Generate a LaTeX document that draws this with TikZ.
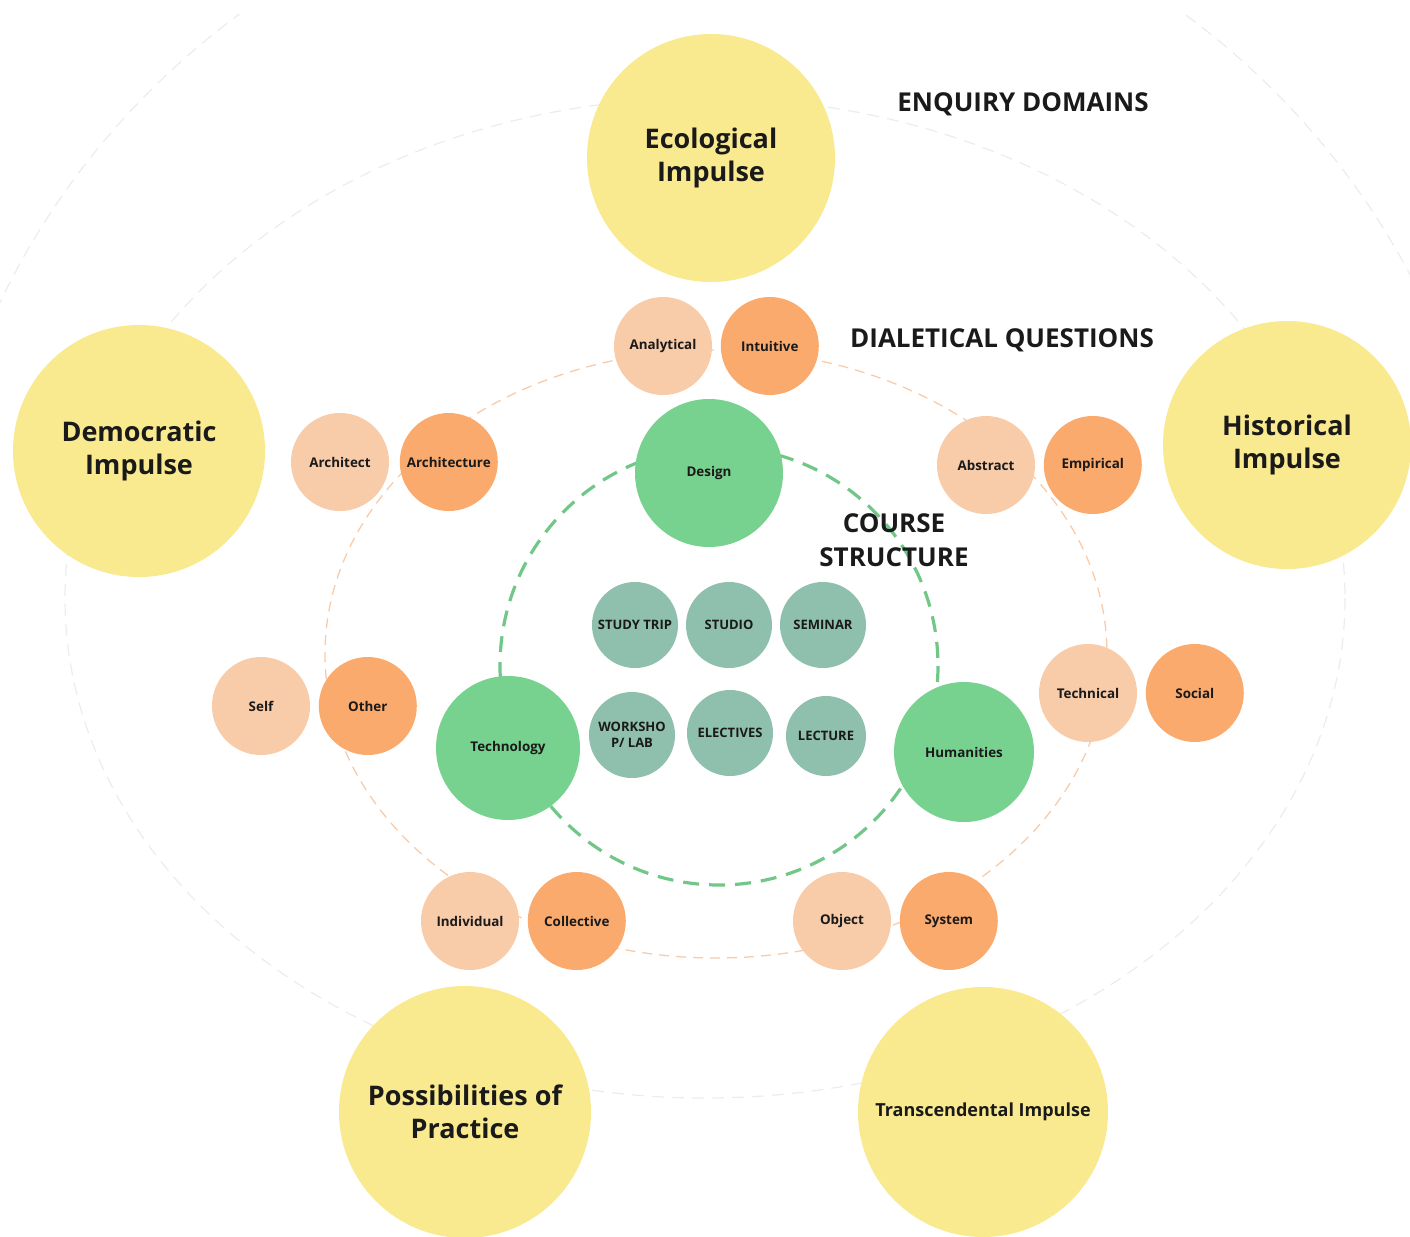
\documentclass[tikz,border=0pt]{standalone}
\usepackage{fontspec}
\setmainfont{Open Sans}
\usetikzlibrary{positioning}

\definecolor{ink}{HTML}{1A1A1A}
\definecolor{impulsefill}{HTML}{F9E98F}
\definecolor{paleorange}{HTML}{F8CBA9}
\definecolor{deeporange}{HTML}{F9AA6C}
\definecolor{coursegreen}{HTML}{77D18F}
\definecolor{formatteal}{HTML}{8FBFAD}
\definecolor{greyring}{HTML}{ECECEC}

\begin{document}
\begin{tikzpicture}[x=0.5pt,y=-0.5pt,
    every node/.style={text=ink,align=center,inner sep=0pt},
    impulse/.style={circle,fill=impulsefill,minimum size=#1,font=\fontsize{13.5}{16.5}\selectfont\bfseries},
    thesis/.style={circle,fill=paleorange,minimum size=49pt,font=\fontsize{6.7}{8}\selectfont\bfseries},
    antithesis/.style={circle,fill=deeporange,minimum size=49pt,font=\fontsize{6.7}{8}\selectfont\bfseries},
    strand/.style={circle,fill=coursegreen,minimum size=#1,font=\fontsize{6.7}{8}\selectfont\bfseries},
    format/.style={circle,fill=formatteal,minimum size=#1,font=\fontsize{6.5}{8}\selectfont\bfseries},
    heading/.style={font=\fontsize{13}{17}\selectfont\bfseries}]
    \clip (0,0) rectangle (1410,1237);
    \useasboundingbox (0,0) rectangle (1410,1237);

    % rings
    \begin{scope}
        \clip (0,14) rectangle (1410,420);
        \draw[greyring,line width=0.6pt,dash pattern=on 6pt off 4pt] (712,625) ellipse [x radius=785, y radius=765];
    \end{scope}
    \draw[greyring,line width=0.6pt,dash pattern=on 6pt off 4pt] (705,598) ellipse [x radius=640, y radius=500];
    \draw[paleorange,line width=0.65pt,dash pattern=on 5pt off 3.5pt] (716,654) ellipse [x radius=391, y radius=304];
    \draw[coursegreen!95!black,line width=1.6pt,dash pattern=on 8pt off 5pt] (719,666) circle [radius=219];

    % enquiry domains
    \node[impulse=124pt] (eco) at (711,158) {Ecological\\Impulse};
    \node[impulse=126pt] (demo) at (139,451) {Democratic\\Impulse};
    \node[impulse=124pt] (hist) at (1287,445) {Historical\\Impulse};
    \node[impulse=126pt] (poss) at (465,1112) {Possibilities of\\Practice};
    \node[impulse=125pt,font=\fontsize{9}{11}\selectfont\bfseries] (trans) at (983,1112) {Transcendental Impulse};

    % dialectical pairs
    \node[thesis] (analytical) at (663,346) {Analytical};
    \node[antithesis,right=4pt of analytical] (intuitive) {Intuitive};
    \node[thesis] (architect) at (340,462) {Architect};
    \node[antithesis,right=5pt of architect] (architecture) {Architecture};
    \node[thesis] (abstract) at (986,465) {Abstract};
    \node[antithesis,right=4pt of abstract] (empirical) {Empirical};
    \node[thesis] (self) at (261,706) {Self};
    \node[antithesis,right=4pt of self] (other) {Other};
    \node[thesis] (technical) at (1088,693) {Technical};
    \node[antithesis,right=4pt of technical] (social) {Social};
    \node[thesis] (individual) at (470,921) {Individual};
    \node[antithesis,right=4pt of individual] (collective) {Collective};
    \node[thesis] (object) at (842,921) {Object};
    \node[antithesis,right=4pt of object] (system) {System};

    % course structure
    \node[strand=74pt] (design) at (709,473) {Design};
    \node[strand=72pt] (technology) at (508,748) {Technology};
    \node[strand=70pt] (humanities) at (964,752) {Humanities};

    \node[format=43pt] (trip) at (635,625) {STUDY TRIP};
    \node[format=43pt] (studio) at (729,625) {STUDIO};
    \node[format=43pt] (seminar) at (823,625) {SEMINAR};
    \node[format=43pt] (workshop) at (632,735) {WORKSHO\\P/ LAB};
    \node[format=43pt] (electives) at (730,733) {ELECTIVES};
    \node[format=40pt] (lecture) at (826,736) {LECTURE};

    % ring titles
    \node[heading] at (1023,104) {ENQUIRY DOMAINS};
    \node[heading] at (1002,340) {DIALETICAL QUESTIONS};
    \node[heading] at (894,540) {COURSE\\STRUCTURE};
\end{tikzpicture}
\end{document}
